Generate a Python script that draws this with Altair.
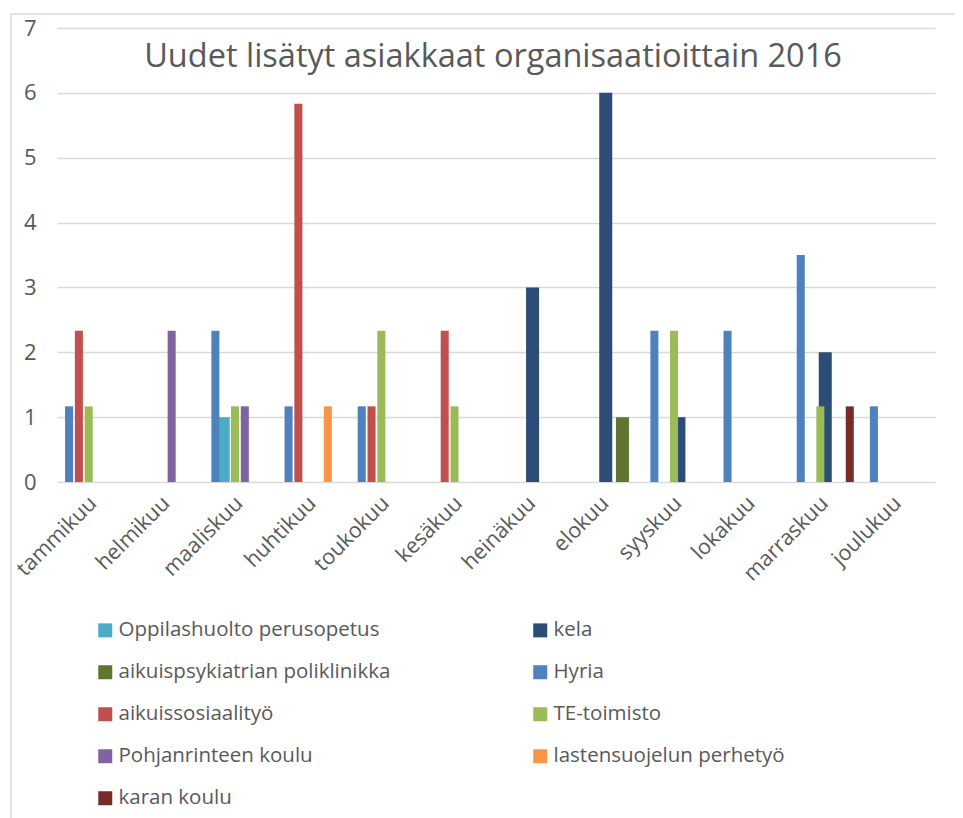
import altair as alt
import pandas as pd

months = ["tammikuu", "helmikuu", "maaliskuu", "huhtikuu", "toukokuu", "kesäkuu",
          "heinäkuu", "elokuu", "syyskuu", "lokakuu", "marraskuu", "joulukuu"]

# primary axis (0-7)
primary_series = ["Oppilashuolto perusopetus", "kela", "aikuispsykiatrian poliklinikka"]
oppilashuolto = [0, 0, 1, 0, 0, 0, 0, 0, 0, 0, 0, 0]
kela = [0, 0, 0, 0, 0, 0, 3, 6, 1, 0, 2, 0]
aikuispsyk = [0, 0, 0, 0, 0, 0, 0, 1, 0, 0, 0, 0]

# secondary axis (0-6)
secondary_series = ["Hyria", "aikuissosiaalityö", "TE-toimisto", "Pohjanrinteen koulu",
                    "lastensuojelun perhetyö", "karan koulu"]
hyria = [1, 0, 2, 1, 1, 0, 0, 0, 2, 2, 3, 1]
aikuissos = [2, 0, 0, 5, 1, 2, 0, 0, 0, 0, 0, 0]
te_toimisto = [1, 0, 1, 0, 2, 1, 0, 0, 2, 0, 1, 0]
pohjanrinne = [0, 2, 1, 0, 0, 0, 0, 0, 0, 0, 0, 0]
lastensuojelu = [0, 0, 0, 1, 0, 0, 0, 0, 0, 0, 0, 0]
karan = [0, 0, 0, 0, 0, 0, 0, 0, 0, 0, 1, 0]

# legend is filled column by column (5 rows, 2 columns)
legend_order = ["Oppilashuolto perusopetus", "aikuispsykiatrian poliklinikka",
                "aikuissosiaalityö", "Pohjanrinteen koulu", "karan koulu",
                "kela", "Hyria", "TE-toimisto", "lastensuojelun perhetyö"]
colors = ["#4BACC6", "#5F7530", "#C0504D", "#8064A2", "#772C2A",
          "#2C4D75", "#4F81BD", "#9BBB59", "#F79646"]

title_text = "Uudet lisätyt asiakkaat organisaatioittain 2016"

FONT = "Open Sans"
GRAY = "#595959"
GRID = "#D9D9D9"
FS = 22


def to_long(names, lists):
    rows = []
    for name, vals in zip(names, lists):
        for m, v in zip(months, vals):
            if v:
                rows.append({"month": m, "series": name, "value": v})
    return pd.DataFrame(rows)


df_p = to_long(primary_series, [oppilashuolto, kela, aikuispsyk])
df_s = to_long(secondary_series, [hyria, aikuissos, te_toimisto, pohjanrinne,
                                  lastensuojelu, karan])

x_enc = alt.X("month:N", sort=months,
              scale=alt.Scale(domain=months, paddingInner=0, paddingOuter=0),
              axis=alt.Axis(title=None, labelAngle=-45, labelAlign="right",
                            labelBaseline="middle", labelFontSize=21.5, labelFont=FONT,
                            labelColor=GRAY, domain=False, ticks=False, grid=False,
                            labelPadding=18, labelLimit=400))
color_enc = alt.Color("series:N",
                      scale=alt.Scale(domain=legend_order, range=colors),
                      legend=alt.Legend(title=None, orient="none", legendX=38, legendY=592,
                                        columns=2, symbolType="square", symbolSize=196,
                                        symbolStrokeWidth=0, labelFontSize=20.5, labelFont=FONT,
                                        labelColor=GRAY, rowPadding=21, columnPadding=139,
                                        labelOffset=3, gridAlign="all", padding=0,
                                        labelLimit=600))

primary = alt.Chart(df_p).mark_bar().encode(
    x=x_enc,
    xOffset=alt.XOffset("series:N",
                        scale=alt.Scale(domain=primary_series, paddingInner=0.22, paddingOuter=0.8)),
    y=alt.Y("value:Q", scale=alt.Scale(domain=[0, 7], nice=False),
            axis=alt.Axis(title=None, orient="left", values=list(range(8)), grid=True,
                          gridColor=GRID, gridWidth=1.3, domain=False, ticks=False,
                          labelPadding=21, labelFontSize=FS, labelFont=FONT, labelColor=GRAY)),
    color=color_enc,
)

secondary = alt.Chart(df_s).mark_bar().encode(
    x=x_enc,
    xOffset=alt.XOffset("series:N",
                        scale=alt.Scale(domain=secondary_series, paddingInner=0.18, paddingOuter=0.82)),
    y=alt.Y("value:Q", scale=alt.Scale(domain=[0, 6], nice=False),
            axis=alt.Axis(title=None, orient="right", values=list(range(7)), grid=False,
                          domain=False, ticks=False, labelPadding=23, labelFontSize=FS,
                          labelFont=FONT, labelColor=GRAY, labelAlign="left")),
    color=color_enc,
)

one = pd.DataFrame({"a": [0]})
border_left = alt.Chart(one).mark_rule(color=GRID, strokeWidth=1.5).encode(
    x=alt.value(-46), y=alt.value(-14), y2=alt.value(800))
border_top = alt.Chart(one).mark_rule(color=GRID, strokeWidth=1.5).encode(
    x=alt.value(-46), x2=alt.value(1000), y=alt.value(-14))
title = alt.Chart(one).mark_text(font=FONT, fontSize=32.5, color=GRAY, align="center",
                                 baseline="middle").encode(
    x=alt.value(436), y=alt.value(29), text=alt.value(title_text))

chart = alt.layer(primary, secondary, border_left, border_top, title).resolve_scale(
    y="independent", xOffset="independent"
).properties(
    width=878, height=454,
    autosize=alt.AutoSizeParams(type="none"),
    padding={"left": 49, "top": 20, "right": 20, "bottom": 336},
).configure_view(stroke=None)

chart.save("out.html", embed_options={"renderer": "svg", "actions": False})
